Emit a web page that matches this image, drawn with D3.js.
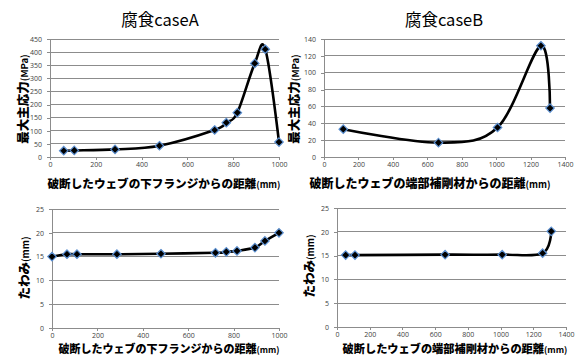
<!DOCTYPE html>
<html><head><meta charset="utf-8">
<script src="https://cdn.jsdelivr.net/npm/d3@7"></script>
<style>body{margin:0;background:#fff}svg{display:block}</style>
</head><body>
<script>
// Data
const titles = ["腐食caseA", "腐食caseB"];
const xLabelA = "破断したウェブの下フランジからの距離";
const xLabelB = "破断したウェブの端部補剛材からの距離";
const yLabelStress = "最大主応力";
const yLabelDefl = "たわみ";

const stressA_x = [60, 106, 284, 478, 719, 770, 818, 894, 940, 1000];
const stressA_y = [24, 25, 29, 43, 103, 131, 169, 357, 411, 57];
const stressB_x = [112, 665, 1008, 1260, 1313];
const stressB_y = [33, 17, 35, 132, 58];
const deflA_x = [0, 66, 110, 286, 480, 720, 768, 815, 894, 938, 1000];
const deflA_y = [15.0, 15.5, 15.5, 15.5, 15.6, 15.8, 16.0, 16.2, 16.9, 18.3, 20.0];
const deflB_x = [53, 110, 661, 1010, 1257, 1310];
const deflB_y = [15.1, 15.1, 15.2, 15.2, 15.5, 20.1];

const ticksX_A = [0, 200, 400, 600, 800, 1000];
const ticksX_B = [0, 200, 400, 600, 800, 1000, 1200, 1400];
const ticksY_stressA = [0, 50, 100, 150, 200, 250, 300, 350, 400, 450];
const ticksY_stressB = [0, 20, 40, 60, 80, 100, 120, 140];
const ticksY_defl = [0, 5, 10, 15, 20, 25];

const W = 575, H = 356;
const svg = d3.select("body").append("svg").attr("width", W).attr("height", H);
const jp = "'Noto Sans CJK JP', 'Noto Sans', sans-serif";
const tickFont = "'Open Sans', 'Liberation Sans', sans-serif";

function panel(o) {
  const x = d3.scaleLinear().domain([0, o.xmax]).range([o.l, o.r]);
  const y = d3.scaleLinear().domain([0, o.ymax]).range([o.b, o.t]);
  const g = svg.append("g");
  // gridlines
  g.selectAll(".grid").data(o.yt.filter(d => d > 0)).join("line")
    .attr("x1", o.l).attr("x2", o.r)
    .attr("y1", d => y(d)).attr("y2", d => y(d))
    .attr("stroke", "#8c8c8c").attr("stroke-width", 1).attr("shape-rendering", "crispEdges");
  // axes
  const ax = g.append("g").attr("transform", `translate(0,${o.b})`)
    .call(d3.axisBottom(x).tickValues(o.xt).tickSize(3).tickSizeOuter(0).tickPadding(2).tickFormat(d3.format("d")));
  const ay = g.append("g").attr("transform", `translate(${o.l},0)`)
    .call(d3.axisLeft(y).tickValues(o.yt).tickSize(3).tickSizeOuter(0).tickFormat(d3.format("d")));
  [ax, ay].forEach(a => {
    a.select(".domain").attr("stroke", "#8c8c8c").attr("shape-rendering", "crispEdges");
    a.selectAll(".tick line").attr("stroke", "#8c8c8c").attr("shape-rendering", "crispEdges");
    a.selectAll(".tick text").attr("fill", "#404040").attr("font-size", 7).attr("font-family", tickFont);
  });
  ax.selectAll(".tick text").attr("dy", "0.75em");
  ay.selectAll(".tick text").attr("dx", "-0.3em");
  // line
  const pts = o.xs.map((v, i) => [v, o.ys[i]]);
  g.append("path").datum(pts)
    .attr("d", d3.line().x(d => x(d[0])).y(d => y(d[1])).curve(d3.curveCardinal.tension(0)))
    .attr("fill", "none").attr("stroke", "#000").attr("stroke-width", 2.6);
  // markers
  g.selectAll(".m").data(pts).join("path")
    .attr("d", d3.symbol(d3.symbolDiamond2, 46)())
    .attr("transform", d => `translate(${x(d[0])},${y(d[1])})`)
    .attr("fill", "#000").attr("stroke", "#5b8fd0").attr("stroke-width", 1.2);
  // title
  if (o.title) {
    g.append("text").attr("x", o.tx).attr("y", 26).attr("text-anchor", "middle")
      .attr("font-family", jp).attr("font-size", 16.5).attr("fill", "#000").text(o.title);
  }
  // x label
  const xl = g.append("text").attr("x", o.xlx).attr("y", o.xly).attr("text-anchor", "middle")
    .attr("font-family", jp).attr("font-weight", 900).attr("fill", "#000");
  xl.append("tspan").attr("font-size", o.xfs).text(o.xlabel);
  xl.append("tspan").attr("font-size", o.xfs * 0.78).attr("font-weight", 700).text("(mm)");
  // y label
  const yl = g.append("text").attr("transform", `translate(${o.ylx},${o.yly}) rotate(-90)`)
    .attr("text-anchor", "middle").attr("font-family", jp).attr("font-weight", 900).attr("fill", "#000");
  yl.append("tspan").attr("font-size", 12.5).text(o.ylabel);
  yl.append("tspan").attr("font-size", 9.5).attr("font-weight", 700).text(o.yunit);
}

panel({l: 50, r: 279, t: 39, b: 157, xmax: 1000, ymax: 450, xt: ticksX_A, yt: ticksY_stressA,
  xs: stressA_x, ys: stressA_y, title: titles[0], tx: 160,
  xlabel: xLabelA, xfs: 11.6, xlx: 164, xly: 188, ylabel: yLabelStress, yunit: "(MPa)", ylx: 28, yly: 99});
panel({l: 324, r: 565, t: 39, b: 157, xmax: 1400, ymax: 140, xt: ticksX_B, yt: ticksY_stressB,
  xs: stressB_x, ys: stressB_y, title: titles[1], tx: 444,
  xlabel: xLabelB, xfs: 12, xlx: 430, xly: 188, ylabel: yLabelStress, yunit: "(MPa)", ylx: 299, yly: 99});
panel({l: 52, r: 279, t: 209, b: 328, xmax: 1000, ymax: 25, xt: ticksX_A, yt: ticksY_defl,
  xs: deflA_x, ys: deflA_y,
  xlabel: xLabelA, xfs: 11, xlx: 169, xly: 353, ylabel: yLabelDefl, yunit: "(mm)", ylx: 29, yly: 268});
panel({l: 337, r: 566, t: 208, b: 327, xmax: 1400, ymax: 25, xt: ticksX_B, yt: ticksY_defl,
  xs: deflB_x, ys: deflB_y,
  xlabel: xLabelB, xfs: 11.2, xlx: 455, xly: 353, ylabel: yLabelDefl, yunit: "(mm)", ylx: 314, yly: 266});
</script>
</body></html>
